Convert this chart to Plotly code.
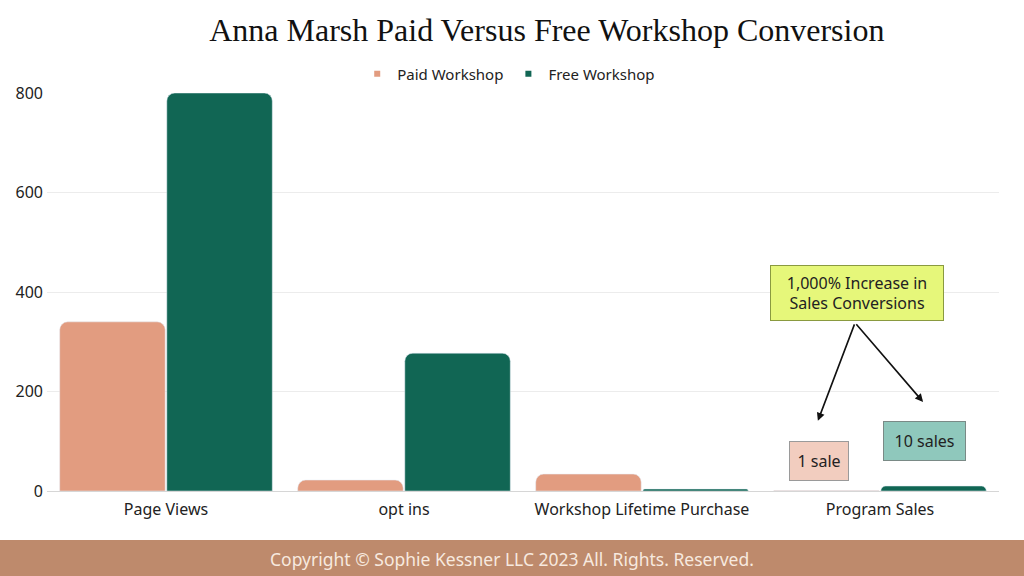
import plotly.graph_objects as go

categories = ["Page Views", "opt ins", "Workshop Lifetime Purchase", "Program Sales"]
paid = [340, 22, 34, 1]
free = [800, 277, 4, 10]
yticks = [0, 200, 400, 600, 800]

paid_color = "#E29C80"
free_color = "#116654"

fig = go.Figure()
fig.add_trace(go.Bar(x=categories, y=paid, name="Paid Workshop", marker_color=paid_color,
                     showlegend=False))
fig.add_trace(go.Bar(x=categories, y=free, name="Free Workshop", marker_color=free_color,
                     showlegend=False))
# small square legend markers
for name, col in [("Paid Workshop", paid_color), ("Free Workshop", free_color)]:
    fig.add_trace(go.Scatter(x=[None], y=[None], mode="markers", name=name,
                             marker=dict(symbol="square", size=6, color=col)))

font_body = "Noto Sans"

fig.update_layout(
    width=1024, height=576,
    paper_bgcolor="white", plot_bgcolor="white",
    margin=dict(l=47, r=25, t=93, b=85),
    barmode="group", bargap=0.1, bargroupgap=0.015,
    barcornerradius=8,
    font=dict(family=font_body, size=16, color="#222"),
    title=dict(text="Anna Marsh Paid Versus Free Workshop Conversion",
               x=0.534, xanchor="center", y=0.948, yanchor="middle",
               font=dict(family="Liberation Serif", size=32, color="#111")),
    legend=dict(orientation="h", x=0.485, xanchor="center", y=1.048, yanchor="middle",
                font=dict(size=15), bgcolor="rgba(0,0,0,0)", itemwidth=30,
                tracegroupgap=0),
    showlegend=True,
)
fig.update_xaxes(showgrid=False, showline=True, linecolor="#d6d6d6", linewidth=1,
                 ticks="", tickfont=dict(size=16), ticklabelstandoff=4)
fig.update_yaxes(range=[0, 800], tickvals=yticks, showgrid=True, gridcolor="#ececec",
                 zeroline=False, showline=False, tickfont=dict(size=16), ticklabelstandoff=3)

# callout boxes and arrows (x in category index units)
fig.add_annotation(x=2.903, y=398, xref="x", yref="y",
                   text="1,000% Increase in<br>Sales Conversions", showarrow=False,
                   width=164, height=46, borderpad=4,
                   bgcolor="#E6F77A", bordercolor="#8a9a40", borderwidth=1,
                   font=dict(size=16, color="#222"))
fig.add_annotation(x=2.744, y=60, xref="x", yref="y", text="1 sale", showarrow=False,
                   width=50, height=30, borderpad=4,
                   bgcolor="#F2CDBF", bordercolor="#9a9a9a", borderwidth=1,
                   font=dict(size=16, color="#222"))
fig.add_annotation(x=3.189, y=100, xref="x", yref="y", text="10 sales", showarrow=False,
                   width=73, height=30, borderpad=4,
                   bgcolor="#8FC8BC", bordercolor="#7a8a86", borderwidth=1,
                   font=dict(size=16, color="#222"))
for tx, ty in [(2.739, 141), (3.181, 179)]:
    fig.add_annotation(x=tx, y=ty, xref="x", yref="y", ax=2.895, ay=338,
                       axref="x", ayref="y", text="", showarrow=True,
                       arrowhead=2, arrowsize=1, arrowwidth=1.6, arrowcolor="#111")

# footer band
fig.add_shape(type="rect", xref="paper", yref="paper", x0=-0.1, x1=1.1, y0=-0.3, y1=-0.123,
              fillcolor="#BE8A6C", line_width=0, layer="above")
fig.add_annotation(x=0.488, y=-0.171, xref="paper", yref="paper", showarrow=False,
                   yanchor="middle",
                   text="Copyright © Sophie Kessner LLC 2023 All. Rights. Reserved.",
                   font=dict(size=17.5, color="#F7E9DF"))

fig.write_html("out.html", config={"displayModeBar": False},
               post_script="document.body.style.margin='0';")
